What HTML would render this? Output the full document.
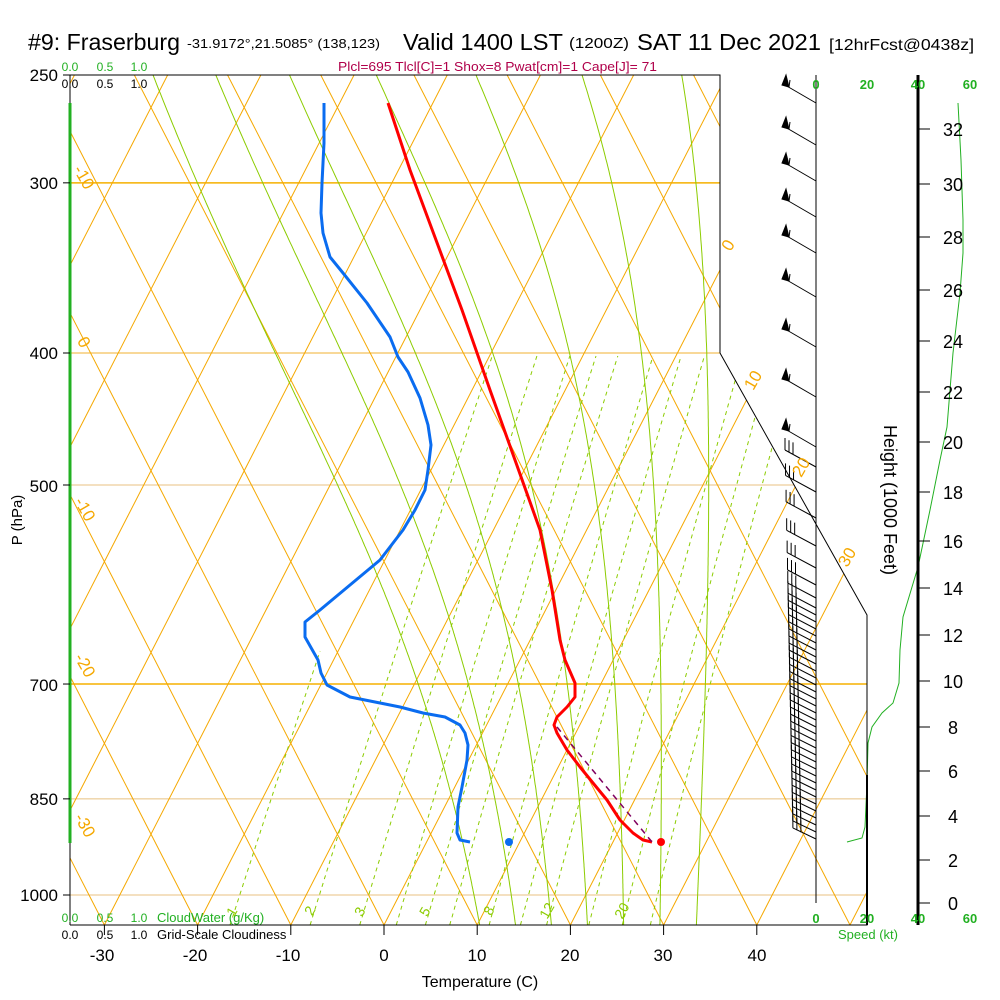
<!DOCTYPE html>
<html><head><meta charset="utf-8">
<style>
html,body{margin:0;padding:0;background:#fff;}
svg{display:block;font-family:"Liberation Sans",sans-serif;}
</style></head>
<body>
<svg id="s" width="1000" height="1000" viewBox="0 0 1000 1000" xmlns="http://www.w3.org/2000/svg">
<defs>
<clipPath id="cp"><polygon points="70,75 720,75 720,353 867,615 867,925 70,925"/></clipPath>
</defs>
<rect width="1000" height="1000" fill="#fff"/>
<g id="grid" clip-path="url(#cp)"></g>
<g id="prof"></g>
<g id="barbs" stroke="#000" stroke-width="1" fill="none"></g>

<!-- frame -->
<polyline points="70,925 70,75 720,75 720,353 867,615 867,925 70,925" fill="none" stroke="#000" stroke-width="1"/>
<line x1="70" y1="103" x2="70" y2="843" stroke="#22b022" stroke-width="3"/>
<line x1="816" y1="75" x2="816" y2="903" stroke="#000" stroke-width="1"/>
<line x1="867" y1="775" x2="867" y2="925" stroke="#000" stroke-width="2"/>
<line x1="918" y1="75" x2="918" y2="925" stroke="#000" stroke-width="3"/>
<g id="ticks" stroke="#000" stroke-width="1"></g>

<!-- title -->
<text x="28" y="50" font-size="23" textLength="152" lengthAdjust="spacingAndGlyphs">#9: Fraserburg</text>
<text x="187" y="48" font-size="13" textLength="193" lengthAdjust="spacingAndGlyphs">-31.9172°,21.5085° (138,123)</text>
<text x="403" y="50" font-size="23" textLength="160" lengthAdjust="spacingAndGlyphs">Valid 1400 LST</text>
<text x="569" y="48" font-size="15" textLength="60" lengthAdjust="spacingAndGlyphs">(1200Z)</text>
<text x="637" y="50" font-size="23" textLength="184" lengthAdjust="spacingAndGlyphs">SAT 11 Dec 2021</text>
<text x="829" y="50" font-size="16" textLength="145" lengthAdjust="spacingAndGlyphs">[12hrFcst@0438z]</text>
<text x="338" y="71" font-size="13" fill="#b0004a" textLength="319" lengthAdjust="spacingAndGlyphs">Plcl=695 Tlcl[C]=1 Shox=8 Pwat[cm]=1 Cape[J]= 71</text>

<!-- cloud axis labels -->
<g font-size="12" text-anchor="middle">
<text x="70" y="71" fill="#22b022">0.0</text><text x="105" y="71" fill="#22b022">0.5</text><text x="139" y="71" fill="#22b022">1.0</text>
<text x="70" y="88">0.0</text><text x="105" y="88">0.5</text><text x="139" y="88">1.0</text>
<text x="70" y="922" fill="#22b022">0.0</text><text x="105" y="922" fill="#22b022">0.5</text><text x="139" y="922" fill="#22b022">1.0</text>
<text x="70" y="939">0.0</text><text x="105" y="939">0.5</text><text x="139" y="939">1.0</text>
</g>
<text x="157" y="922" font-size="13" fill="#22b022">CloudWater (g/Kg)</text>
<text x="157" y="939" font-size="13">Grid-Scale Cloudiness</text>

<!-- pressure labels -->
<g font-size="17" text-anchor="end">
<text x="58" y="81">250</text><text x="58" y="189">300</text><text x="58" y="359">400</text>
<text x="58" y="492">500</text><text x="58" y="691">700</text><text x="58" y="805">850</text><text x="58" y="901">1000</text>
</g>
<text transform="translate(22,520) rotate(-90)" font-size="15" text-anchor="middle">P (hPa)</text>

<!-- temperature labels -->
<g font-size="17" text-anchor="middle">
<text x="102" y="961">-30</text><text x="195" y="961">-20</text><text x="288" y="961">-10</text><text x="384" y="961">0</text>
<text x="477" y="961">10</text><text x="570" y="961">20</text><text x="663" y="961">30</text><text x="757" y="961">40</text>
</g>
<text x="480" y="987" font-size="16" text-anchor="middle">Temperature (C)</text>

<!-- speed labels -->
<g font-size="13" fill="#22b022" text-anchor="middle" font-weight="bold">
<text x="816" y="89">0</text><text x="867" y="89">20</text><text x="918" y="89">40</text><text x="970" y="89">60</text>
<text x="816" y="923">0</text><text x="867" y="923">20</text><text x="918" y="923">40</text><text x="970" y="923">60</text>
</g>
<text x="838" y="939" font-size="13" fill="#22b022">Speed (kt)</text>

<!-- height labels -->
<g font-size="18" text-anchor="middle" id="hlab"></g>
<text transform="translate(884,500) rotate(90)" font-size="18" text-anchor="middle">Height (1000 Feet)</text>

<!-- orange labels -->
<g font-size="17" fill="#f5a800" text-anchor="middle">
<text transform="translate(79,180) rotate(60)">-10</text>
<text transform="translate(79,345) rotate(60)">0</text>
<text transform="translate(80,512) rotate(60)">-10</text>
<text transform="translate(80,668) rotate(60)">-20</text>
<text transform="translate(80,828) rotate(60)">-30</text>
<text transform="translate(733,248) rotate(-60)">0</text>
<text transform="translate(758,383) rotate(-60)">10</text>
<text transform="translate(806,470) rotate(-60)">20</text>
<text transform="translate(852,560) rotate(-60)">30</text>
</g>
<g font-size="14" fill="#8ccc00" text-anchor="middle">
<text transform="translate(236,914) rotate(-60)">1</text>
<text transform="translate(314,913) rotate(-60)">2</text>
<text transform="translate(364,914) rotate(-60)">3</text>
<text transform="translate(429,914) rotate(-60)">5</text>
<text transform="translate(493,913) rotate(-60)">8</text>
<text transform="translate(551,913) rotate(-60)">12</text>
<text transform="translate(626,913) rotate(-60)">20</text>
</g>

<script>
(function(){
var NS="http://www.w3.org/2000/svg";
function el(parent,tag,attrs){var e=document.createElementNS(NS,tag);for(var k in attrs)e.setAttribute(k,attrs[k]);parent.appendChild(e);return e;}
function Y(p){return 75+591.5*Math.log(p/250);}
function X(T,p){return 384+9.32*T+0.513*(925-Y(p));}
var g=document.getElementById('grid');
[[300,'#f5b000',1.5],[400,'#f0b030',1],[500,'#e8c080',1],[700,'#f5b000',1.5],[850,'#e8c080',1],[1000,'#e8c080',1]].forEach(function(a){
 el(g,'line',{x1:70,x2:870,y1:Y(a[0]),y2:Y(a[0]),stroke:a[1],'stroke-width':a[2]});
});
for(var T=-130;T<=60;T+=10){
 el(g,'line',{x1:384+9.32*T,y1:925,x2:384+9.32*T+0.513*850,y2:75,stroke:'#f5a800','stroke-width':1});
}
for(var k=-40;k<=160;k+=10){
 el(g,'line',{x1:384+9.32*k,y1:925,x2:384+9.32*k-0.513*850,y2:75,stroke:'#f5a800','stroke-width':1});
}
function es(Tc){return 6.112*Math.exp(17.67*Tc/(Tc+243.5));}
function dTdp(TK,p){var Tc=TK-273.15;var e=es(Tc);var rs=0.622*e/(p-e);var L=2.5e6,Rd=287,cp=1004;
 return (Rd*TK+L*rs)/(p*(cp+L*L*rs*0.622/(Rd*TK*TK)));}
for(var tw=8;tw<=32;tw+=4){
 var pts=[];var TK=tw+273.15,p=1000;
 var TKd=TK,pd=1000,down=[];
 while(pd<1060){down.push([X(TKd-273.15,pd),Y(pd)]);var d=dTdp(TKd,pd);TKd+=d*2;pd+=2;}
 down.reverse();
 while(p>240){pts.push([X(TK-273.15,p),Y(p)]);var d2=dTdp(TK,p);TK-=d2*2;p-=2;}
 var all=down.concat(pts);
 el(g,'polyline',{points:all.map(function(q){return q[0].toFixed(1)+','+q[1].toFixed(1)}).join(' '),fill:'none',stroke:'#8ccc00','stroke-width':1});
}
[1,2,3,4,5,6,8,10,12,16,20,24].forEach(function(w){
 var pts=[];
 for(var p=1052;p>=400;p-=5){var e=w*p/(622+w);var l=Math.log(e/6.112);var Td=243.5*l/(17.67-l);
  if(Td<-22)break; pts.push(X(Td,p).toFixed(1)+','+Y(p).toFixed(1));}
 el(g,'polyline',{points:pts.join(' '),fill:'none',stroke:'#8ccc00','stroke-width':1,'stroke-dasharray':'4,4'});
});
var pr=document.getElementById('prof');
el(pr,'polyline',{points:"324,103 324,143 322,183 321,213 323,233 330,257 343,273 367,303 390,337 398,357 408,372 420,398 428,425 431,445 428,470 425,490 415,510 403,530 380,560 350,585 320,610 305,622 305,637 318,660 321,673 327,685 350,697 380,703 400,707 423,713 445,717 460,725 465,733 468,745 467,760 462,787 458,807 457,833 460,840 470,842",fill:'none',stroke:'#0a6cf0','stroke-width':3,'stroke-linejoin':'round'});
el(pr,'polyline',{points:"388,103 410,170 436,240 462,310 490,390 515,460 540,530 552,590 560,640 565,660 575,683 575,697 567,707 557,717 554,725 557,733 567,750 580,767 593,783 607,800 620,820 633,833 643,840 652,842",fill:'none',stroke:'#f00','stroke-width':3,'stroke-linejoin':'round'});
el(pr,'line',{x1:557,y1:727,x2:652,y2:842,stroke:'#800060','stroke-width':1.5,'stroke-dasharray':'6,5'});
el(pr,'circle',{cx:661,cy:842,r:4,fill:'#f00'});
el(pr,'circle',{cx:509,cy:842,r:4,fill:'#0a6cf0'});
el(pr,'polyline',{points:"958,103 961,160 963,220 963,253 960,293 953,353 947,427 940,460 930,510 918,567 903,617 900,650 899,683 893,703 882,713 872,727 868,743 867,783 865,827 862,838 847,842",fill:'none',stroke:'#22b022','stroke-width':1});
var b=document.getElementById('barbs');
[103,145,181,217,253,297,347,397,447].forEach(function(y){
 el(b,'line',{x1:816,y1:y,x2:785,y2:y-18});
 el(b,'polygon',{points:(782)+','+(y-18)+' '+(786)+','+(y-28)+' '+(789)+','+(y-16),fill:'#000',stroke:'#000'});
 el(b,'line',{x1:789,y1:y-16,x2:790,y2:y-23});
});
var ys=[467,492,518,546,568,585,598];for(var y=608;y<=845;y+=7)ys.push(y);
ys.forEach(function(y,i){
 var f=(y-467)/(845-467);
 var lx=785+f*8, dy=17-f*6;
 el(b,'line',{x1:816,y1:y,x2:lx,y2:y-dy});
 for(var j=0;j<3;j++){el(b,'line',{x1:lx+j*4,y1:y-dy+j*2.2,x2:lx+j*4,y2:y-dy+j*2.2-12});}
});
var t=document.getElementById('ticks');
[250,300,400,500,700,850,1000].forEach(function(p){el(t,'line',{x1:63,x2:70,y1:Y(p),y2:Y(p)});});
[-30,-20,-10,0,10,20,30,40].forEach(function(T){var x=384+9.32*T;el(t,'line',{x1:x,x2:x,y1:925,y2:935});});
var hl=document.getElementById('hlab');
var hy={32:129,30:184,28:237,26:290,24:341,22:392,20:442,18:492,16:541,14:588,12:635,10:681,8:727,6:771,4:816,2:860,0:903};
for(var h in hy){el(t,'line',{x1:918,x2:930,y1:hy[h],y2:hy[h]});var tx=el(hl,'text',{x:953,y:hy[h]+7});tx.textContent=h;}
})();
</script>
</svg>
</body></html>
